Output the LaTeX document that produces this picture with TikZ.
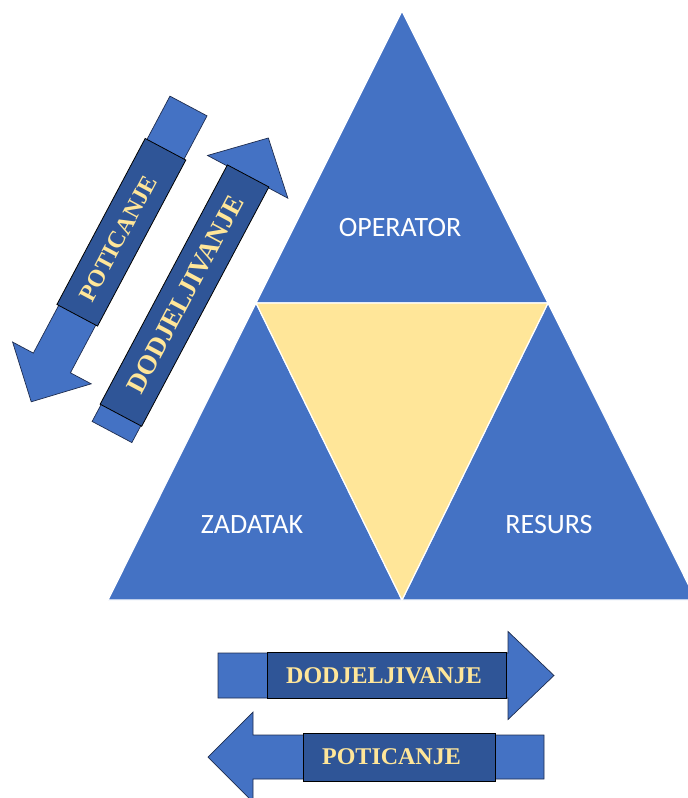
\documentclass[tikz,border=0pt]{standalone}
\usepackage{fontspec}
\setmainfont{Liberation Serif}
\newfontfamily\calib{Carlito}
\definecolor{triblue}{HTML}{4472C4}
\definecolor{triyellow}{HTML}{FFE699}
\definecolor{boxblue}{HTML}{2F5597}
\definecolor{edgenavy}{HTML}{1F2D4F}
\tikzset{
  piece/.style={fill=triblue, draw=white, line width=1.2pt, line join=round},
  centrepiece/.style={fill=triyellow, draw=white, line width=1.2pt, line join=round},
  trilabel/.style={text=white, font=\calib\fontsize{28}{30}\selectfont, inner sep=0pt},
  arrowbody/.style={fill=triblue, draw=edgenavy, line width=0.7pt, line join=miter},
  darkbox/.style={fill=boxblue, draw=black, line width=0.8pt, inner sep=0pt, minimum height=46pt,
    text=triyellow, font=\bfseries\fontsize{24}{26}\selectfont},
}
\begin{document}
\begin{tikzpicture}[x=1pt,y=-1pt]
\useasboundingbox (0,0) rectangle (688,798);
\clip (0,0) rectangle (688,798);
% triangle
\draw[piece] (402,11) -- (256,303) -- (548,303) -- cycle;
\draw[piece] (256,303) -- (108,600) -- (402,600) -- cycle;
\draw[piece] (548,303) -- (402,600) -- (696,600) -- cycle;
\draw[centrepiece] (256,303) -- (548,303) -- (402,600) -- cycle;
\node[trilabel] (op) at (400,228) {OPERATOR};
\node[trilabel] (za) at (252,525) {ZADATAK};
\node[trilabel] (re) at (549,525) {RESURS};
% left arrow: POTICANJE (down-left)
\begin{scope}[shift={(188.5,106)}, rotate=242]
  \draw[arrowbody] (0,-21) -- (291,-21) -- (291,-44.5) -- (335,0) -- (291,44.5) -- (291,21) -- (0,21) -- cycle;
  \node[darkbox, rotate=62, minimum width=188pt] (lpbox) at (143,0) {POTICANJE\hspace*{14pt}};
\end{scope}
% left arrow: DODJELJIVANJE (up-right)
\begin{scope}[shift={(112,432)}, rotate=62]
  \draw[arrowbody] (0,-22.5) -- (289,-22.5) -- (289,-45.5) -- (333,0) -- (289,45.5) -- (289,22.5) -- (0,22.5) -- cycle;
  \node[darkbox, minimum width=271pt, minimum height=47pt, rotate=62,
        font=\bfseries\fontsize{27}{29}\selectfont] (ldbox) at (154.5,0) {\hspace*{3pt}DODJELJIVANJE};
\end{scope}
% bottom arrow: DODJELJIVANJE (right)
\begin{scope}[shift={(218,675.5)}]
  \draw[arrowbody] (0,-22.5) -- (290,-22.5) -- (290,-44) -- (336,0) -- (290,44) -- (290,22.5) -- (0,22.5) -- cycle;
  \node[darkbox, minimum width=239pt] (bdbox) at (168.5,0) {DODJELJIVANJE\hspace*{5pt}};
\end{scope}
% bottom arrow: POTICANJE (left)
\begin{scope}[shift={(544,757)}, rotate=180]
  \draw[arrowbody] (0,-22) -- (291,-22) -- (291,-45) -- (336,0) -- (291,45) -- (291,22) -- (0,22) -- cycle;
  \node[darkbox, minimum width=192pt, minimum height=48pt] (bpbox) at (145,0) {POTICANJE\hspace*{15pt}};
\end{scope}
\end{tikzpicture}
\end{document}
